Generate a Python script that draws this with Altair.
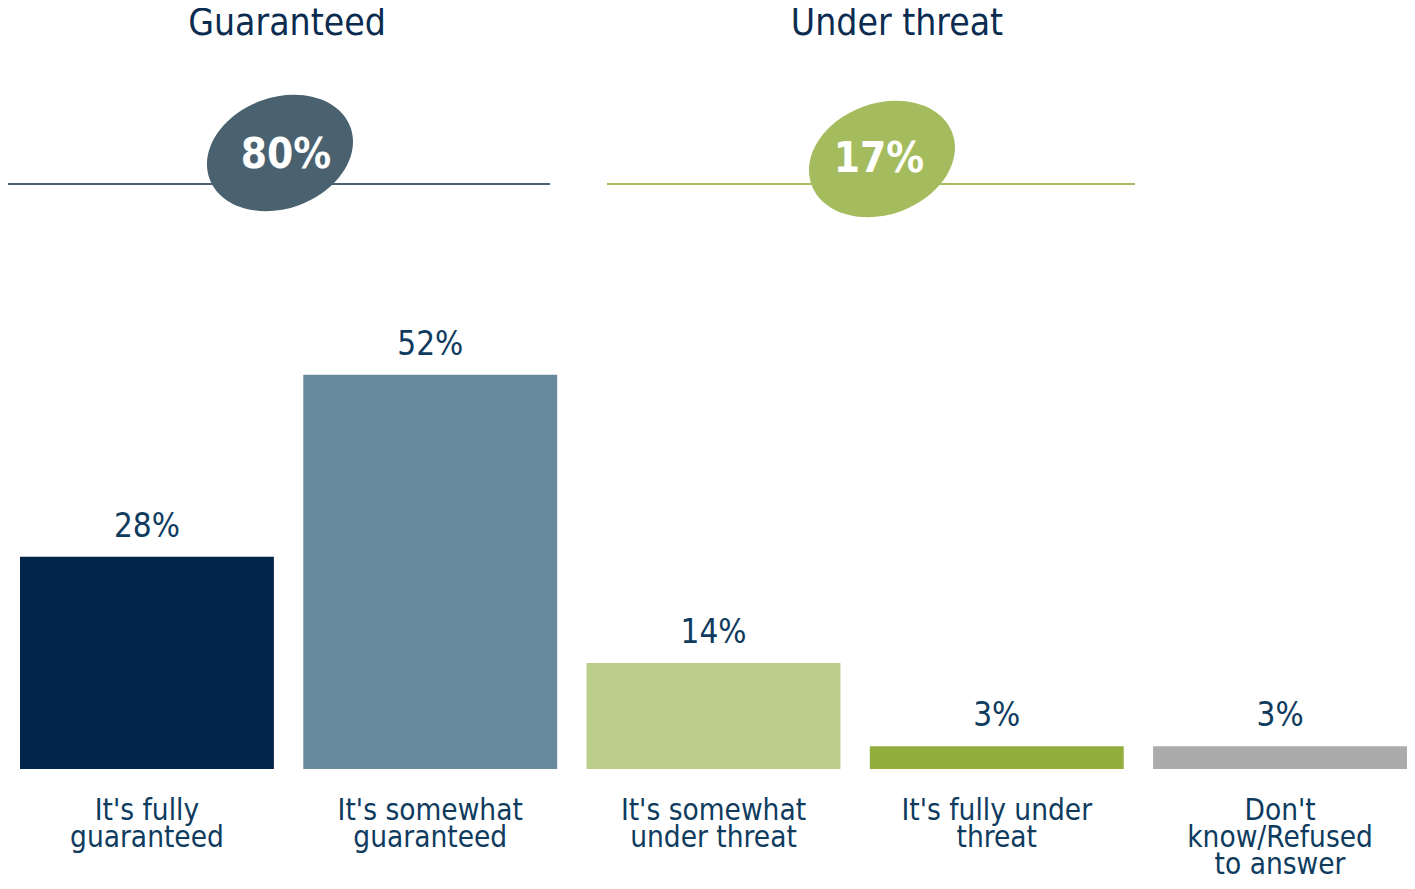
import altair as alt
import pandas as pd

# ---- data ----
categories = [
    "It's fully guaranteed",
    "It's somewhat guaranteed",
    "It's somewhat under threat",
    "It's fully under threat",
    "Don't know/Refused to answer",
]
category_labels = [
    "It's fully\nguaranteed",
    "It's somewhat\nguaranteed",
    "It's somewhat\nunder threat",
    "It's fully under\nthreat",
    "Don't\nknow/Refused\nto answer",
]
values = [28, 52, 14, 3, 3]

groups = ["Guaranteed", "Under threat"]
group_totals = [80, 17]

# ---- style ----
bar_colors = ["#02264A", "#688A9E", "#BBCE8C", "#92AF3E", "#ABABAB"]
group_colors = ["#4A6270", "#A5BC5E"]
TEXT_DARK = "#0B2C50"
TEXT_MID = "#0E3B5E"
LABEL_FONT = "DejaVu Sans Condensed"
NUM_FONT = "DejaVu Sans Condensed"

# ---- layout (pixel positions of the decorative header) ----
title_x = [267, 877]
line_x1 = [-14, 587]
line_x2 = [530, 1115]
badge_x = [260, 862]
badge_y = [142, 148]
badge_text_x = [266, 859]
badge_text_y = [144, 148]

W, H = 1387, 758

df = pd.DataFrame({
    "category": categories,
    "label": category_labels,
    "value": values,
})
df["value_label"] = [f"{v}%" for v in values]
df["base"] = 0

ann = pd.DataFrame({
    "group": groups,
    "total": [f"{t}%" for t in group_totals],
    "tx": title_x,
    "lx1": line_x1,
    "lx2": line_x2,
    "bx": badge_x,
    "by": badge_y,
    "btx": badge_text_x,
    "bty": badge_text_y,
})

x = alt.X("category:N", sort=categories,
          scale=alt.Scale(type="band", paddingInner=0.1037, paddingOuter=0), axis=None)
yscale = alt.Scale(domain=[0, 100])
y = alt.Y("value:Q", scale=yscale, axis=None)

base = alt.Chart(df)

bars = base.mark_bar().encode(
    x=x, y=y,
    color=alt.Color("category:N", scale=alt.Scale(domain=categories, range=bar_colors), legend=None),
)

value_text = base.mark_text(
    dy=-20, baseline="alphabetic", font=NUM_FONT, fontSize=33, color=TEXT_MID
).encode(x=x, y=y, text="value_label:N")

cat_text = base.mark_text(
    dy=51, baseline="alphabetic", font=LABEL_FONT, fontSize=29.5, lineHeight=27,
    lineBreak="\n", color=TEXT_MID
).encode(x=x, y=alt.Y("base:Q", scale=yscale, axis=None), text="label:N")

abase = alt.Chart(ann)
gcolor = alt.Color("group:N", scale=alt.Scale(domain=groups, range=group_colors), legend=None)

titles = abase.mark_text(
    baseline="middle", font=LABEL_FONT, fontSize=37, color=TEXT_DARK
).encode(x=alt.X("tx:Q", scale=None), y=alt.value(13), text="group:N")

rules = abase.mark_rule(strokeWidth=2).encode(
    x=alt.X("lx1:Q", scale=None), x2="lx2:Q", y=alt.value(173), color=gcolor
)

ELLIPSE = "M -1 0 A 1 0.74 0 1 1 1 0 A 1 0.74 0 1 1 -1 0 Z"
badges = abase.mark_point(
    shape=ELLIPSE, size=150 * 150, filled=True, opacity=1, angle=340, strokeWidth=0
).encode(x=alt.X("bx:Q", scale=None), y=alt.Y("by:Q", scale=None), color=gcolor)

badge_text = abase.mark_text(
    baseline="middle", font=NUM_FONT, fontSize=42, fontWeight="bold", color="white"
).encode(x=alt.X("btx:Q", scale=None), y=alt.Y("bty:Q", scale=None), text="total:N")

data_layer = alt.layer(bars, value_text, cat_text)
ann_layer = alt.layer(rules, badges, badge_text, titles)

chart = alt.layer(data_layer, ann_layer).resolve_scale(
    color="independent"
).properties(
    width=W, height=H,
    padding={"left": 12, "top": 3, "right": 0, "bottom": 108},
    autosize="none",
).configure_view(stroke=None)

chart.save("out.html", embed_options={"renderer": "svg", "actions": False})
